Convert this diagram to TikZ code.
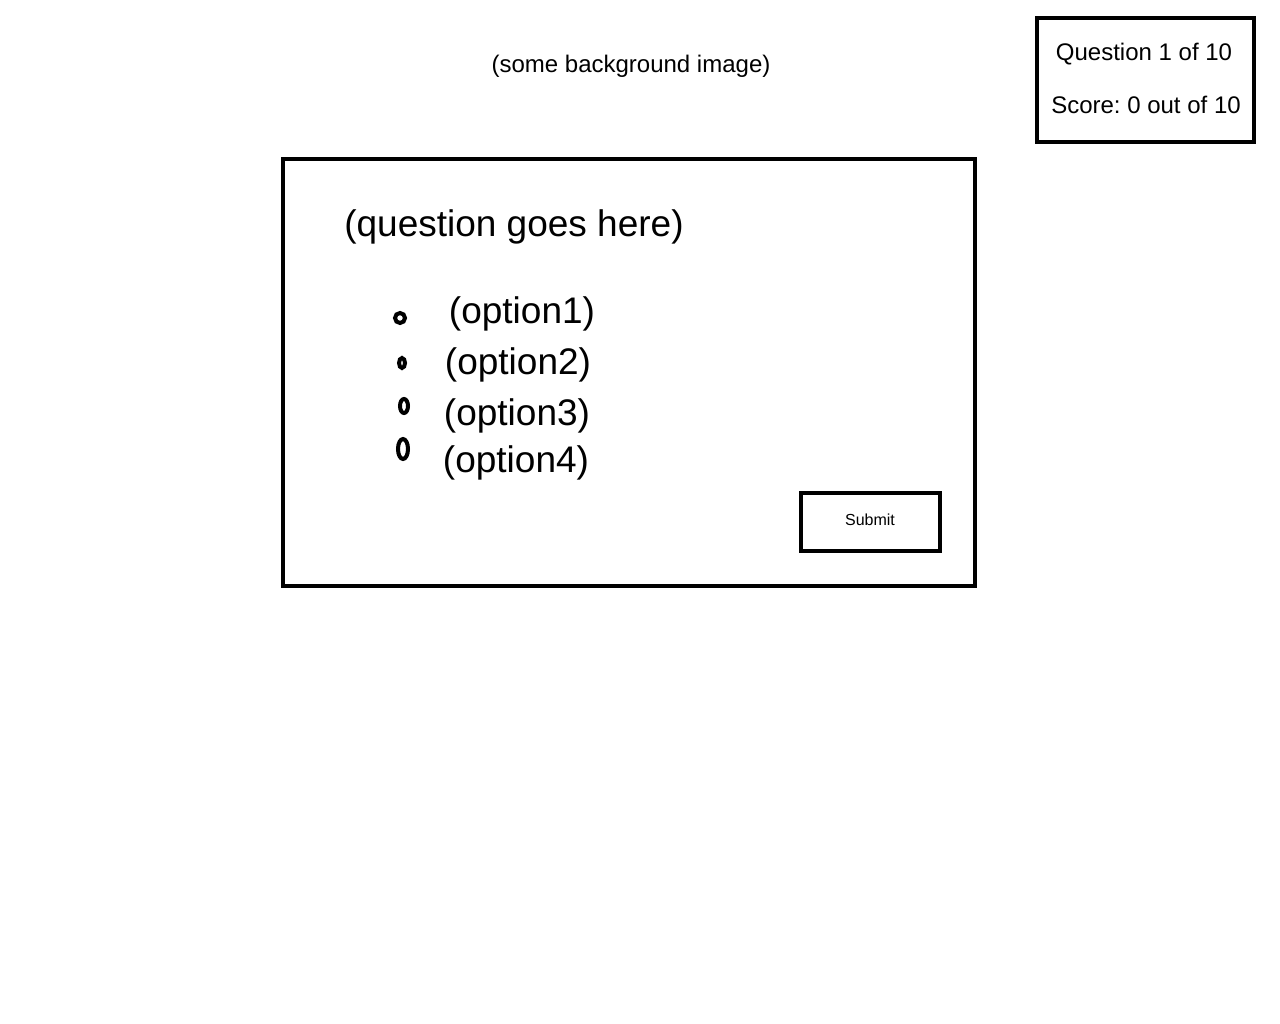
\documentclass[tikz,border=0pt]{standalone}
\usepackage{fontspec}
\setmainfont{Liberation Sans}
\usetikzlibrary{positioning}
\frenchspacing

\begin{document}
\begin{tikzpicture}[x=1pt,y=-1pt,
    frame/.style={draw, line width=4pt},
    radio/.style={line width=4pt},
    label/.style={font=\fontsize{24}{28}\selectfont},
    option/.style={font=\fontsize{37}{41}\selectfont}]

\useasboundingbox (0,0) rectangle (1280,1024);

\node[label] (bg) at (631,66) {(some background image)};

% score box
\node[frame, minimum width=217pt, minimum height=124pt] (scorebox) at (1145.5,80) {};
\node[label] (qnum) at (1144,54) {Question 1 of 10};
\node[label] (score) at (1146,105) {Score: 0 out of 10};

% question card
\node[frame, minimum width=692pt, minimum height=427pt] (card) at (629,372.5) {};
\node[option] (question) at (514,227) {(question goes here)};

\node[option] (opt1) at (522,314) {(option1)};
\node[option] (opt2) at (518,365) {(option2)};
\node[option] (opt3) at (517,416) {(option3)};
\node[option] (opt4) at (516,463) {(option4)};

\draw[radio] (400,318) ellipse (5pt and 5pt);
\draw[radio] (402,363) ellipse (3pt and 5pt);
\draw[radio] (404,406) ellipse (4pt and 7pt);
\draw[radio] (403,449) ellipse (5pt and 10pt);

\node[frame, minimum width=139pt, minimum height=58pt] (submit) at (870,521.5) {};
\node[font=\fontsize{16}{19}\selectfont] (submittext) at (870,520) {Submit};
\end{tikzpicture}
\end{document}
